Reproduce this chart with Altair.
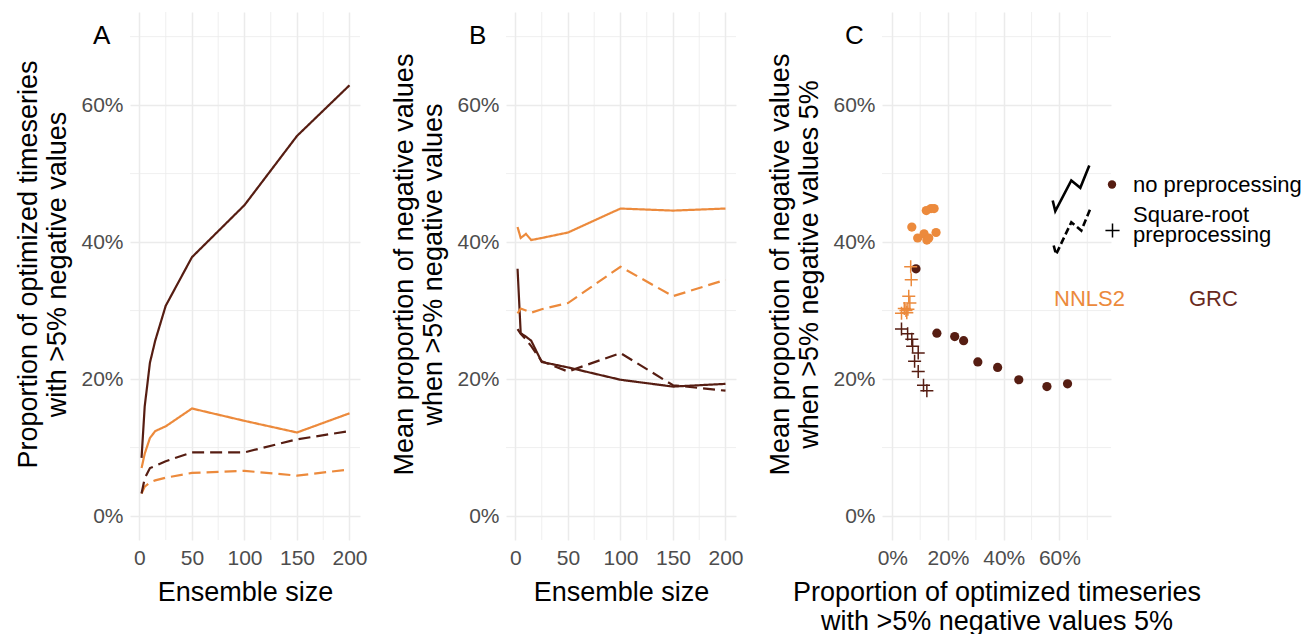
import altair as alt
import pandas as pd

FONT = "Liberation Sans"
ORANGE = "#ec8a3c"
BROWN = "#561d12"
GRID = "#ebebeb"

# ---------------- data ----------------
sizes = [2, 5, 10, 15, 25, 50, 100, 150, 200]

# Panel A: proportion of optimized timeseries with >5% negative values (%)
prop_grc_none = [8.5, 16.0, 22.4, 25.6, 30.7, 37.8, 45.4, 55.5, 62.9]
prop_nnls2_none = [7.0, 9.1, 11.4, 12.4, 13.1, 15.7, 13.9, 12.2, 15.0]
prop_grc_sqrt = [3.3, 5.5, 7.0, 7.3, 8.0, 9.3, 9.3, 11.2, 12.4]
prop_nnls2_sqrt = [3.3, 4.3, 4.9, 5.2, 5.6, 6.3, 6.6, 5.9, 6.8]

# Panel B: mean proportion of negative values when >5% negative values (%)
mean_grc_none = [36.1, 26.7, 26.2, 25.6, 22.5, 21.7, 19.9, 18.9, 19.3]
mean_nnls2_none = [42.2, 40.6, 41.2, 40.3, 40.6, 41.4, 44.9, 44.6, 44.9]
mean_grc_sqrt = [27.3, 26.6, 25.8, 24.8, 22.6, 21.1, 23.8, 19.1, 18.3]
mean_nnls2_sqrt = [29.6, 30.3, 30.0, 29.7, 30.2, 31.1, 36.4, 32.1, 34.5]

series = [
    ("NNLS2", "none", prop_nnls2_none, mean_nnls2_none),
    ("GRC", "none", prop_grc_none, mean_grc_none),
    ("NNLS2", "sqrt", prop_nnls2_sqrt, mean_nnls2_sqrt),
    ("GRC", "sqrt", prop_grc_sqrt, mean_grc_sqrt),
]

rows = []
for method, prep, props, means in series:
    for s, p, m in zip(sizes, props, means):
        rows.append({"method": method, "prep": prep, "series": method + prep,
                     "size": s, "prop": p / 100, "mean": m / 100})
df = pd.DataFrame(rows)

# grid values
major_size = [0, 50, 100, 150, 200]
minor_size = [25, 75, 125, 175]
major_pct = [0, 0.2, 0.4, 0.6]
minor_pct = [0.1, 0.3, 0.5, 0.7]

# legend glyph geometry (decoration, pixels inside panel C)
leg_zig = pd.DataFrame({
    "g": ["solid"] * 5 + ["dashed"] * 5,
    "i": list(range(5)) * 2,
    "lx": [170.7, 173.3, 189.3, 198.3, 207.3, 171.7, 174.0, 189.3, 199.3, 208.3],
    "ly": [188.5, 199.2, 168.5, 175.8, 153.5, 233.5, 242.5, 210.2, 218.5, 196.8],
})

# ---------------- layout constants ----------------
W = 230
WC = 229
H = 528
TFS = 27

x_size = alt.Scale(domain=[-9, 210], nice=False, zero=False)
y_pct = alt.Scale(domain=[-0.035, 0.736], nice=False, zero=False)
x_pct = alt.Scale(domain=[-0.037, 0.785], nice=False, zero=False)

color_scale = alt.Scale(domain=["NNLS2", "GRC"], range=[ORANGE, BROWN])
dash_scale = alt.Scale(domain=["none", "sqrt"], range=[[1, 0], [12, 6]])


def y_axis(title):
    return alt.Axis(values=major_pct, format=".0%", title=title,
                    titleX=-94, titleY=252, titleAngle=270, titleAlign="center",
                    titleBaseline="alphabetic", titleLineHeight=29,
                    titleFontSize=TFS, titleFontWeight="normal", titleColor="black",
                    labelFontSize=21, labelColor="#4d4d4d", labelPadding=7,
                    ticks=False, domain=False, grid=True, gridColor=GRID,
                    gridWidth=1.5, labelOverlap=False)


def x_axis(title, values, fmt, width):
    return alt.Axis(values=values, format=fmt, title=title,
                    titleX=width / 2, titleY=60, titleAlign="center",
                    titleBaseline="alphabetic", titleLineHeight=29,
                    titleFontSize=TFS, titleFontWeight="normal", titleColor="black",
                    labelFontSize=21, labelColor="#4d4d4d", labelPadding=7,
                    labelFlush=False, labelOverlap=False,
                    ticks=False, domain=False, grid=True, gridColor=GRID,
                    gridWidth=1.5)


def panel_title(letter):
    return alt.TitleParams(text=letter, anchor="start", frame="group", offset=0,
                           dx=-37, dy=58, baseline="alphabetic", fontSize=26,
                           fontWeight="normal", color="black", font=FONT)


def minor_rules(xscale, xminor, xax, yax):
    ry = alt.Chart(pd.DataFrame({"v": minor_pct})).mark_rule(
        color=GRID, strokeWidth=0.8).encode(y=alt.Y("v:Q", scale=y_pct, axis=yax))
    rx = alt.Chart(pd.DataFrame({"v": xminor})).mark_rule(
        color=GRID, strokeWidth=0.8).encode(x=alt.X("v:Q", scale=xscale, axis=xax))
    return ry, rx


def line_panel(field, ytitle, letter):
    xax = x_axis("Ensemble size", major_size, "d", W)
    yax = y_axis(ytitle)
    ry, rx = minor_rules(x_size, minor_size, xax, yax)
    lines = alt.Chart(df).mark_line(strokeWidth=2.2).encode(
        x=alt.X("size:Q", scale=x_size, axis=xax),
        y=alt.Y(field + ":Q", scale=y_pct, axis=yax),
        color=alt.Color("method:N", scale=color_scale, legend=None),
        strokeDash=alt.StrokeDash("prep:N", scale=dash_scale, legend=None),
        detail="series:N",
        order="size:Q",
    )
    return alt.layer(ry, rx, lines).properties(width=W, height=H, title=panel_title(letter))


panel_a = line_panel("prop", ["Proportion of optimized timeseries",
                              "with >5% negative values"], "A")
panel_b = line_panel("mean", ["Mean proportion of negative values",
                              "when >5% negative values"], "B")

# ---------------- panel C ----------------
xax_c = x_axis(["Proportion of optimized timeseries",
                "with >5% negative values 5%"], major_pct, ".0%", WC)
yax_c = y_axis(["Mean proportion of negative values",
                "when >5% negative values 5%"])
ryc, rxc = minor_rules(x_pct, minor_pct, xax_c, yax_c)
PLUS = "M-1,0L1,0M0,-1L0,1"

dots = alt.Chart(df).transform_filter(alt.datum.prep == "none").mark_point(
    filled=True, size=85, opacity=1, shape="circle").encode(
    x=alt.X("prop:Q", scale=x_pct, axis=xax_c),
    y=alt.Y("mean:Q", scale=y_pct, axis=yax_c),
    color=alt.Color("method:N", scale=color_scale, legend=None),
)
pluses = alt.Chart(df).transform_filter(alt.datum.prep == "sqrt").mark_point(
    filled=False, size=170, opacity=1, shape=PLUS, strokeWidth=1.5).encode(
    x=alt.X("prop:Q", scale=x_pct, axis=xax_c),
    y=alt.Y("mean:Q", scale=y_pct, axis=yax_c),
    color=alt.Color("method:N", scale=color_scale, legend=None),
)
data_c = alt.layer(ryc, rxc, dots, pluses)

zig_solid = alt.Chart(leg_zig).transform_filter(alt.datum.g == "solid").mark_line(
    color="black", strokeWidth=2.6).encode(
    x=alt.X("lx:Q", scale=None, axis=None),
    y=alt.Y("ly:Q", scale=None, axis=None),
    order="i:Q")
zig_dash = alt.Chart(leg_zig).transform_filter(alt.datum.g == "dashed").mark_line(
    color="black", strokeWidth=2.6, strokeDash=[7, 3.5]).encode(
    x=alt.X("lx:Q", scale=None, axis=None),
    y=alt.Y("ly:Q", scale=None, axis=None),
    order="i:Q")

LFS = 22
leg_dot = alt.Chart(pd.DataFrame({"k": ["dot"]})).mark_point(
    filled=True, size=70, opacity=1, color=BROWN, shape="circle").encode(
    x=alt.value(230), y=alt.value(172.5))
leg_plus = alt.Chart(pd.DataFrame({"k": ["plus"]})).mark_point(
    filled=False, size=200, opacity=1, color="black", shape=PLUS, strokeWidth=1.5).encode(
    x=alt.value(230.5), y=alt.value(218.5))
t1 = alt.Chart(pd.DataFrame({"t": ["no preprocessing"]})).mark_text(
    align="left", baseline="alphabetic", fontSize=LFS, color="black", font=FONT).encode(
    text="t:N", x=alt.value(251), y=alt.value(179.5))
t2 = alt.Chart(pd.DataFrame({"t": ["Square-root"]})).mark_text(
    align="left", baseline="alphabetic", fontSize=LFS, color="black", font=FONT).encode(
    text="t:N", x=alt.value(251), y=alt.value(210.2))
t3 = alt.Chart(pd.DataFrame({"t": ["preprocessing"]})).mark_text(
    align="left", baseline="alphabetic", fontSize=LFS, color="black", font=FONT).encode(
    text="t:N", x=alt.value(251), y=alt.value(229.5))
t_nnls = alt.Chart(pd.DataFrame({"t": ["NNLS2"]})).mark_text(
    align="left", baseline="middle", fontSize=LFS, color=ORANGE, font=FONT).encode(
    text="t:N", x=alt.value(172), y=alt.value(286.5))
t_grc = alt.Chart(pd.DataFrame({"t": ["GRC"]})).mark_text(
    align="left", baseline="middle", fontSize=LFS, color="#6a2a1e", font=FONT).encode(
    text="t:N", x=alt.value(307), y=alt.value(286.5))

legend_c = alt.layer(zig_solid, zig_dash, leg_dot, leg_plus, t1, t2, t3, t_nnls, t_grc)

panel_c = alt.layer(data_c, legend_c).resolve_scale(
    x="independent", y="independent").properties(
    width=WC, height=H, title=panel_title("C"))

chart = alt.hconcat(panel_a, panel_b, panel_c, spacing=146, bounds="flush").properties(
    padding={"left": 13, "top": 11, "right": 5, "bottom": 0},
    background="white",
).configure_view(stroke=None).configure_axis(
    labelFont=FONT, titleFont=FONT).configure_title(font=FONT).configure_text(font=FONT)

chart.save("out.html", embed_options={"renderer": "svg", "actions": False})
